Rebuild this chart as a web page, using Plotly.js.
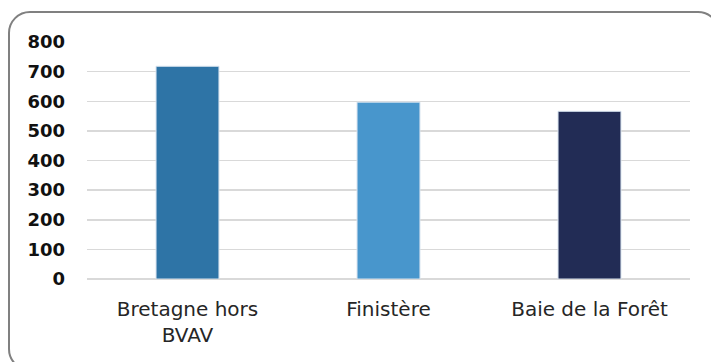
<!DOCTYPE html>
<html>
<head>
<meta charset="utf-8">
<script src="https://cdn.plot.ly/plotly-3.0.1.min.js"></script>
<style>
  html, body { margin: 0; padding: 0; background: #ffffff; }
  #wrap { position: relative; width: 711px; height: 362px; overflow: hidden; }
  #frame { position: absolute; left: 8px; top: 11px; width: 712px; height: 360px;
           border: 2px solid #808080; border-radius: 22px; box-sizing: border-box; }
  #chart { position: absolute; left: 0; top: 0; width: 711px; height: 362px; }
</style>
</head>
<body>
<div id="wrap">
  <div id="frame"></div>
  <div id="chart"></div>
</div>
<script>
const categories = ["Bretagne hors<br>BVAV", "Finistère", "Baie de la Forêt"];
const values = [718, 597, 566];
const barColors = ["#2E74A6", "#4896CC", "#222C55"];
const yTicks = [0, 100, 200, 300, 400, 500, 600, 700, 800];

const trace = {
  type: "bar",
  x: categories,
  y: values,
  marker: { color: barColors, line: { color: "#d6e2ee", width: 1 } },
  hoverinfo: "none"
};

const layout = {
  width: 711,
  height: 362,
  margin: { l: 87, r: 21, t: 42, b: 83 },
  paper_bgcolor: "rgba(0,0,0,0)",
  plot_bgcolor: "rgba(0,0,0,0)",
  bargap: 0.687,
  showlegend: false,
  xaxis: {
    type: "category",
    showgrid: false,
    showline: false,
    zeroline: false,
    ticks: "",
    ticklabelstandoff: 16,
    tickfont: { family: "'DejaVu Sans', sans-serif", size: 20, color: "#262626" }
  },
  yaxis: {
    range: [0, 800],
    tickvals: yTicks,
    ticktext: yTicks.map(String),
    showgrid: true,
    gridcolor: "#d9d9d9",
    gridwidth: 1.5,
    zeroline: true,
    zerolinecolor: "#d9d9d9",
    zerolinewidth: 1.5,
    showline: false,
    ticks: "",
    ticklabelstandoff: 21,
    tickfont: { family: "'DejaVu Sans', sans-serif", size: 18, color: "#111111", weight: "bold" }
  }
};

Plotly.newPlot("chart", [trace], layout, { staticPlot: true, displayModeBar: false });
</script>
</body>
</html>
